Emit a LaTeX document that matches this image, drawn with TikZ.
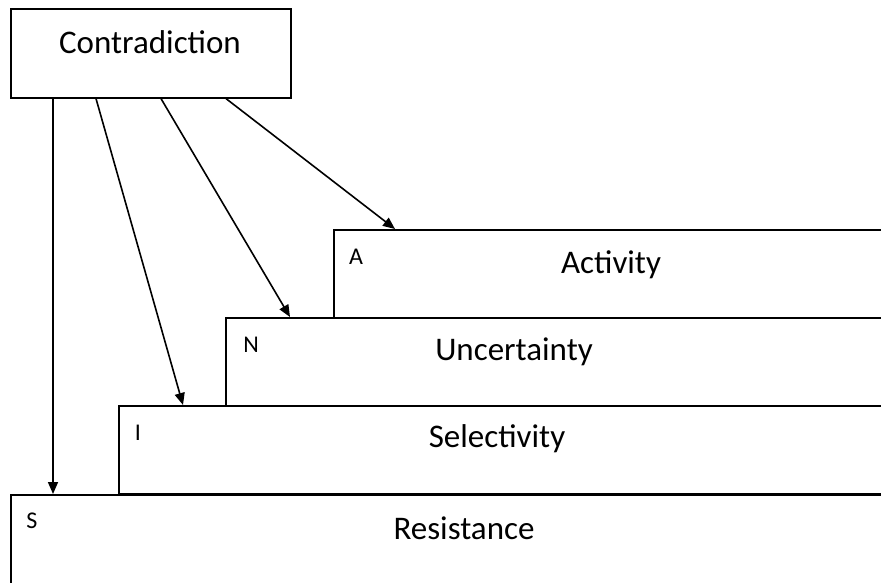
\documentclass[tikz,border=0pt]{standalone}
\usepackage{fontspec}
\setmainfont{Carlito}
\usetikzlibrary{arrows.meta,positioning,calc}
\tikzset{box/.style={draw,line width=0.8pt,anchor=north west,inner sep=0pt,minimum width=450pt,minimum height=44pt}, title/.style={font=\fontsize{16.5}{19}\selectfont,inner sep=0pt}, tag/.style={font=\fontsize{12}{14}\selectfont,inner sep=0pt}, arr/.style={-{Triangle[length=6pt,width=5pt]},line width=0.8pt}}

\begin{document}
\begin{tikzpicture}[x=0.5pt,y=-0.5pt]
\useasboundingbox (0,0) rectangle (881,582);
\clip (0,0) rectangle (881,582);
\node[box,minimum width=140pt,minimum height=44.5pt](con) at (10,8) {};
\node[box](act) at (333,229) {};
\node[box](unc) at (225,317) {};
\node[box](sel) at (118,405) {};
\node[box,minimum height=60pt](res) at (10,494) {};
\node[title](conname) at (150,42) {Contradiction};
\node[title](actname) at (611,265) {Activity};
\node[title](uncname) at (514,352) {Uncertainty};
\node[title](selname) at (497,439) {Selectivity};
\node[title](resname) at (464,528) {Resistance};
\node[tag](acttag) at (356,257) {A};
\node[tag](unctag) at (251,345) {N};
\node[tag](seltag) at (138,433) {I};
\node[tag](restag) at (32,521) {S};
\draw[arr]($(con.south west)+(43,0)$)--($(res.north west)+(43,0)$);
\draw[arr]($(con.south west)+(86,0)$)--($(sel.north west)+(65,0)$);
\draw[arr]($(con.south west)+(151,0)$)--($(unc.north west)+(65,0)$);
\draw[arr]($(con.south west)+(216,0)$)--($(act.north west)+(62,0)$);
\end{tikzpicture}
\end{document}
